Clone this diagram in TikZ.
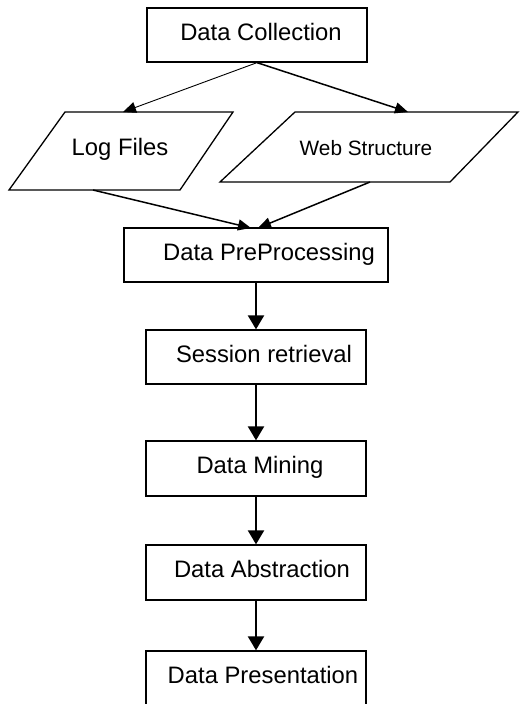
\documentclass[tikz,border=0pt]{standalone}
\usepackage{fontspec}
\setmainfont{Liberation Sans}
\usetikzlibrary{arrows.meta}
\begin{document}
\begin{tikzpicture}[x=1pt,y=-1pt,
  box/.style={draw,line width=1.3pt,minimum width=#1,inner sep=0pt},
  lbl/.style={anchor=base,inner sep=0pt,font=\fontsize{23.8}{26}\selectfont},
  smalllbl/.style={anchor=base,inner sep=0pt,font=\fontsize{20.8}{24}\selectfont},
  thinarr/.style={-{Triangle[length=13pt,width=11pt]},line width=0.9pt},
  medarr/.style={-{Triangle[length=13pt,width=11pt]},line width=1.5pt},
  vertarr/.style={-{Triangle[length=14pt,width=16pt]},line width=2.2pt},
  para/.style={line width=1.3pt,line join=miter}]
\clip (0,0) rectangle (520,704);
\fill[white] (0,0) rectangle (520,704);
% boxes
\node[box=220pt,minimum height=54pt] (dc) at (257,35) {};
\node[box=264pt,minimum height=54pt] (pp) at (256,255) {};
\node[box=220pt,minimum height=54pt] (ses) at (256,357) {};
\node[box=220pt,minimum height=55pt] (dm) at (256,468.5) {};
\node[box=220pt,minimum height=55pt] (da) at (256,572.5) {};
\node[box=220pt,minimum height=80pt] (dp) at (256,691) {};
% parallelograms
\draw[para] (65,112) coordinate (lftl) -- (233,112) coordinate (lftr)
  -- (180,190) coordinate (lfbr) -- (9,190) coordinate (lfbl) -- cycle;
\draw[para] (295,112) coordinate (wstl) -- (518,112) coordinate (wstr)
  -- (450,182) coordinate (wsbr) -- (220,182) coordinate (wsbl) -- cycle;
% texts
\node[lbl] (dct) at (261,40) {Data Collection};
\node[lbl] (lft) at (120,155) {Log Files};
\node[smalllbl] (wst) at (366,155) {Web Structure};
\node[lbl] (ppt) at (269,260) {Data PreProcessing};
\node[lbl] (sest) at (264,362) {Session retrieval};
\node[lbl] (dmt) at (260,473) {Data Mining};
\node[lbl] (dat) at (262,577) {Data Abstraction};
\node[lbl] (dpt) at (263,683) {Data Presentation};
% connector endpoints
\coordinate (lfin) at (123,112);
\coordinate (wsin) at (408,112);
\coordinate (lfout) at (93,190);
\coordinate (wsout) at (370,182);
\coordinate (ppinl) at (251,228);
\coordinate (ppinr) at (258,228);
% connectors
\draw[thinarr] (dc.south) -- (lfin);
\draw[medarr] (dc.south) -- (wsin);
\draw[medarr] (lfout) -- (ppinl);
\draw[medarr] (wsout) -- (ppinr);
\draw[vertarr] (pp.south) -- (ses.north);
\draw[vertarr] (ses.south) -- (dm.north);
\draw[vertarr] (dm.south) -- (da.north);
\draw[vertarr] (da.south) -- (dp.north);
\end{tikzpicture}
\end{document}
